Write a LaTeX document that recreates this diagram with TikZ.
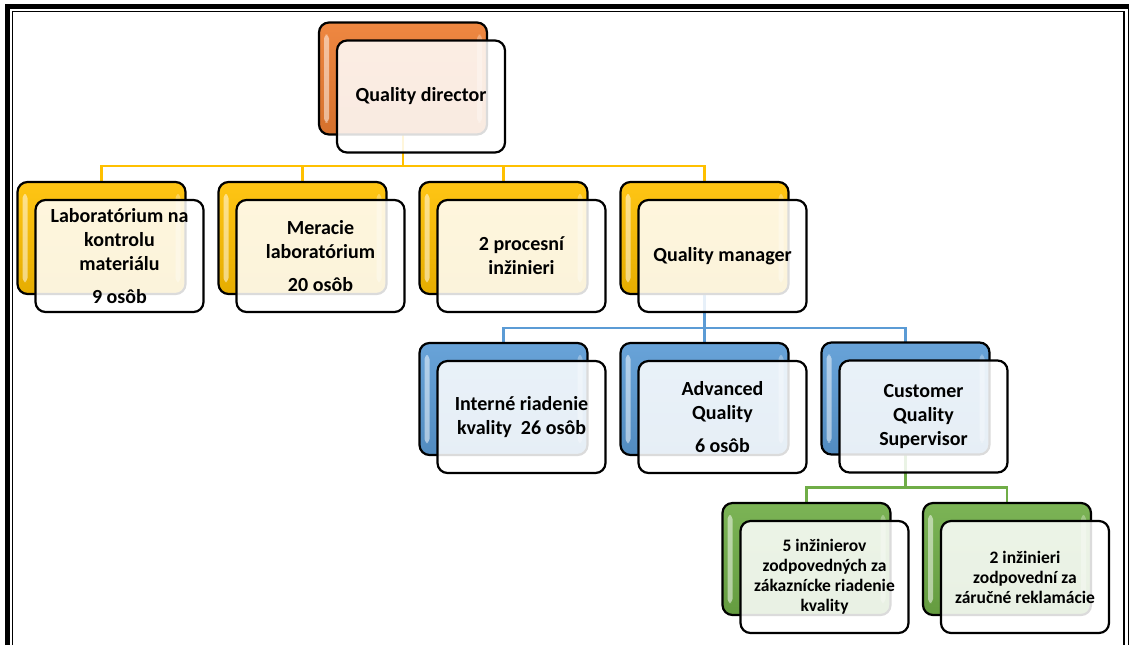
\documentclass[tikz,border=0pt]{standalone}
\usepackage{fontspec}
\setmainfont{Carlito}
\usetikzlibrary{calc}
\pgfdeclarelayer{paper}
\pgfdeclarelayer{bg}
\pgfsetlayers{paper,bg,main}
\definecolor{cOrange}{HTML}{ED7D31}
\definecolor{cYellow}{HTML}{FFC000}
\definecolor{cBlue}{HTML}{5B9BD5}
\definecolor{cGreen}{HTML}{70AD47}
\tikzset{
  backbox/.style={draw=black, line width=1.1pt, rounded corners=5pt,
    minimum width=84pt, minimum height=56pt, inner sep=0pt, outer sep=0pt},
  frontbox/.style={draw=black, line width=1.1pt, rounded corners=5pt,
    fill=white, fill opacity=0.86, text opacity=1,
    minimum width=84pt, minimum height=56pt, inner sep=2pt, outer sep=0pt,
    align=center, font=\bfseries\fontsize{10}{12}\selectfont},
  smalltext/.style={font=\bfseries\fontsize{8.75}{10}\selectfont},
  conn/.style={line width=1.2pt},
  frameline/.style={black, line width=2.5pt},
  thinframe/.style={black, line width=0.75pt}
}
\newcommand{\orgunit}[6]{%
  \node[backbox, top color=#2!92!white, bottom color=#2!90!black] (#1b) at (#3,#4) {};
  \fill[white, opacity=.5, rounded corners=2pt] ($(#1b.north west)+(5,12)$) rectangle ($(#1b.south west)+(10,-12)$);
  \fill[white, opacity=.3, rounded corners=2pt] ($(#1b.north east)+(-10,12)$) rectangle ($(#1b.south east)+(-5,-12)$);
  \node[frontbox,#6] (#1) at ($(#1b)+(18,18)$) {#5};
}
\begin{document}
\begin{tikzpicture}[x=0.5pt, y=-0.5pt]
\useasboundingbox (0,0) rectangle (1129,645);
\begin{pgfonlayer}{paper}
\fill[white] (0,0) rectangle (1129,645);
\end{pgfonlayer}
% frame
\draw[frameline] (7.5,645) -- (7.5,6.5) -- (1129,6.5);
\draw[thinframe] (12.5,645) -- (12.5,11.5) -- (1124,11.5) -- (1124,645);
\draw[thinframe] (1128.3,9) -- (1128.3,645);

% units
\orgunit{qd}{cOrange}{403}{78.5}{Quality director}{}
\orgunit{lab}{cYellow}{101.5}{238}{Laboratórium na\\kontrolu\\materiálu\\[4.5pt]9 osôb}{}
\orgunit{mer}{cYellow}{302.5}{238}{Meracie\\laboratórium\\[4.5pt]20 osôb}{}
\orgunit{proc}{cYellow}{503.5}{238}{2 procesní\\inžinieri}{}
\orgunit{qm}{cYellow}{704.5}{238}{Quality manager}{}
\orgunit{int}{cBlue}{503.5}{399}{Interné riadenie\\kvality\ \ 26 osôb}{}
\orgunit{adv}{cBlue}{704.5}{399}{Advanced\\Quality\\[4.5pt]6 osôb}{}
\orgunit{cust}{cBlue}{905.5}{398.5}{Customer\\Quality\\Supervisor}{}
\orgunit{efive}{cGreen}{806.5}{559}{5 inžinierov\\zodpovedných za\\zákaznícke riadenie\\kvality}{smalltext}
\orgunit{etwo}{cGreen}{1007}{559}{2 inžinieri\\zodpovední za\\záručné reklamácie}{smalltext}

% connectors
\begin{pgfonlayer}{bg}
\coordinate (qdj) at ($(qdb.south)+(0,31.5)$);
\draw[conn, cYellow] (qdb.south) -- (qdj);
\draw[conn, cYellow] (qdj) -| (labb.north);
\draw[conn, cYellow] (qdj) -| (merb.north);
\draw[conn, cYellow] (qdj) -| (procb.north);
\draw[conn, cYellow] (qdj) -| (qmb.north);
\coordinate (qmj) at ($(qmb.south)+(0,34)$);
\draw[conn, cBlue] (qmb.south) -- (qmj);
\draw[conn, cBlue] (qmj) -| (intb.north);
\draw[conn, cBlue] (qmj) -| (advb.north);
\draw[conn, cBlue] (qmj) -| (custb.north);
\coordinate (custj) at ($(custb.south)+(0,33)$);
\draw[conn, cGreen] (custb.south) -- (custj);
\draw[conn, cGreen] (custj) -| (efiveb.north);
\draw[conn, cGreen] (custj) -| (etwob.north);
\end{pgfonlayer}
\end{tikzpicture}
\end{document}
